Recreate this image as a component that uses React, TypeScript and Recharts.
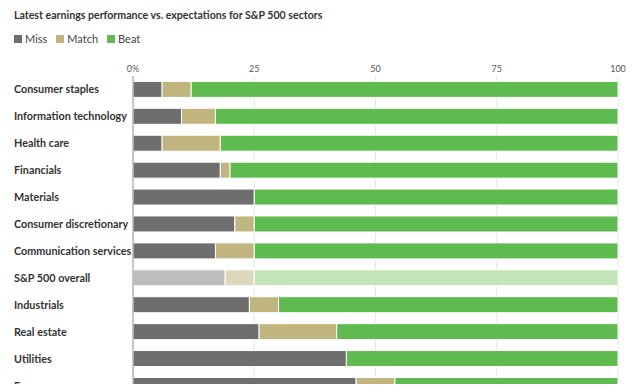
import { BarChart, Bar, XAxis, YAxis, CartesianGrid, Cell } from "recharts";

const sectors = [
  "Consumer staples",
  "Information technology",
  "Health care",
  "Financials",
  "Materials",
  "Consumer discretionary",
  "Communication services",
  "S&P 500 overall",
  "Industrials",
  "Real estate",
  "Utilities",
  "Energy",
];
const missPct = [6, 10, 6, 18, 25, 21, 17, 19, 24, 26, 44, 46];
const matchPct = [6, 7, 12, 2, 0, 4, 8, 6, 6, 16, 0, 8];
const beatPct = [88, 83, 82, 80, 75, 75, 75, 75, 70, 58, 56, 46];
const xTicks = [0, 25, 50, 75, 100];

const OVERALL = "S&P 500 overall";
const FONT = "Lato, sans-serif";

const series = [
  { key: "miss", label: "Miss", color: "#6e6e6e", light: "#bdbdbd" },
  { key: "match", label: "Match", color: "#c0b57f", light: "#ddd8bb" },
  { key: "beat", label: "Beat", color: "#5fba4f", light: "#c3e4b9" },
];

const data = sectors.map((name, i) => ({
  name,
  miss: missPct[i],
  match: matchPct[i],
  beat: beatPct[i],
}));

function SectorTick({ y, payload }: any) {
  return (
    <text x={14} y={y} dy={4} textAnchor="start" fontSize={10.8} fontWeight={700} fill="#333" fontFamily={FONT}>
      {payload.value}
    </text>
  );
}

export default function App() {
  return (
    <div style={{ position: "relative", margin: -8, width: 634, height: 392, overflow: "hidden", background: "#fff", fontFamily: FONT }}>
      <div style={{ position: "absolute", left: 14, top: 9, fontSize: 10.6, fontWeight: 700, color: "#333" }}>
        Latest earnings performance vs. expectations for S&amp;P 500 sectors
      </div>
      <div style={{ position: "absolute", left: 14, top: 32, display: "flex", gap: 9, fontSize: 11, color: "#444" }}>
        {series.map((s) => (
          <span key={s.key} style={{ display: "flex", alignItems: "center" }}>
            <span style={{ display: "inline-block", width: 8, height: 8, background: s.color, marginRight: 3 }} />
            {s.label}
          </span>
        ))}
      </div>
      <div style={{ position: "absolute", left: 0, top: 0 }}>
        <BarChart
          width={634}
          height={399}
          data={data}
          layout="vertical"
          barCategoryGap="20%"
          margin={{ top: 56, right: 16, left: 0, bottom: 0 }}
        >
          <CartesianGrid horizontal={false} stroke="#e6e6e6" />
          <XAxis
            type="number"
            orientation="top"
            domain={[0, 100]}
            ticks={xTicks}
            height={20}
            axisLine={false}
            tickLine={false}
            tickSize={2}
            tickMargin={2}
            tick={{ fontSize: 9, fill: "#555", fontFamily: FONT }}
            tickFormatter={(v) => (v === 0 ? "0%" : String(v))}
          />
          <YAxis
            type="category"
            dataKey="name"
            width={133}
            axisLine={{ stroke: "#999" }}
            tickLine={false}
            tick={<SectorTick />}
            interval={0}
          />
          {series.map((s) => (
            <Bar key={s.key} dataKey={s.key} stackId="a" stroke="#fff" strokeWidth={1} isAnimationActive={false}>
              {data.map((d) => (
                <Cell key={d.name} fill={d.name === OVERALL ? s.light : s.color} />
              ))}
            </Bar>
          ))}
        </BarChart>
      </div>
    </div>
  );
}
